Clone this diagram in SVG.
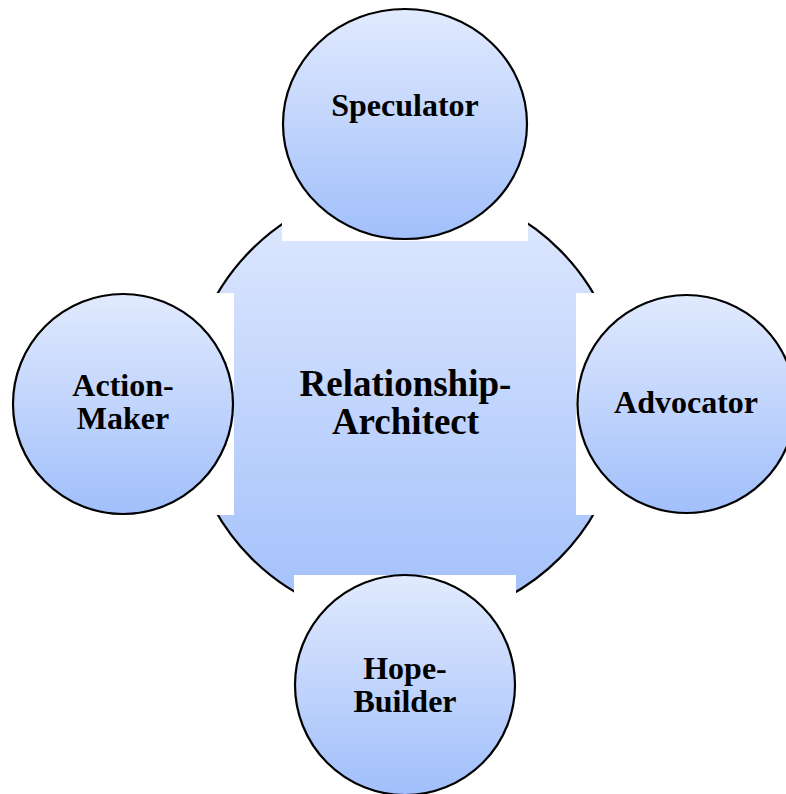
<svg xmlns="http://www.w3.org/2000/svg" width="786" height="794" viewBox="0 0 786 794">
  <defs>
    <linearGradient id="g" x1="0" y1="0" x2="0" y2="1">
      <stop offset="0" stop-color="#e1eafe"/>
      <stop offset="1" stop-color="#a1bffb"/>
    </linearGradient>
    <style>
      .node { fill: url(#g); stroke: #000; stroke-width: 2.2; }
      .mask { fill: #fff; stroke: none; }
      .lbl { font-family: "Liberation Serif", "Times New Roman", serif; font-weight: bold; font-size: 32px; fill: #000; text-anchor: middle; }
      .big { font-size: 37px; }
    </style>
  </defs>
  <rect x="0" y="0" width="786" height="794" fill="#fff"/>
  <g id="center">
    <circle class="node" cx="405.5" cy="404" r="218"/>
  </g>
  <g id="connectors"/>
  <g id="masks">
    <rect class="mask" x="282" y="0" width="246" height="241"/>
    <rect class="mask" x="0" y="293" width="234" height="222"/>
    <rect class="mask" x="576" y="293" width="210" height="222"/>
    <rect class="mask" x="294" y="575" width="222" height="219"/>
  </g>
  <g id="center-label">
    <text class="lbl big" x="405.5" y="396">Relationship-</text>
    <text class="lbl big" x="405.5" y="434">Architect</text>
  </g>
  <g id="speculator">
    <ellipse class="node" cx="405" cy="124" rx="122" ry="115"/>
    <text class="lbl" x="405" y="116">Speculator</text>
  </g>
  <g id="action-maker">
    <circle class="node" cx="123" cy="404" r="110"/>
    <text class="lbl" x="123" y="396">Action-</text>
    <text class="lbl" x="123" y="429">Maker</text>
  </g>
  <g id="advocator">
    <circle class="node" cx="686.5" cy="404" r="109"/>
    <text class="lbl" x="686" y="413">Advocator</text>
  </g>
  <g id="hope-builder">
    <circle class="node" cx="405" cy="685" r="110"/>
    <text class="lbl" x="405" y="679">Hope-</text>
    <text class="lbl" x="405" y="711.5">Builder</text>
  </g>
</svg>
